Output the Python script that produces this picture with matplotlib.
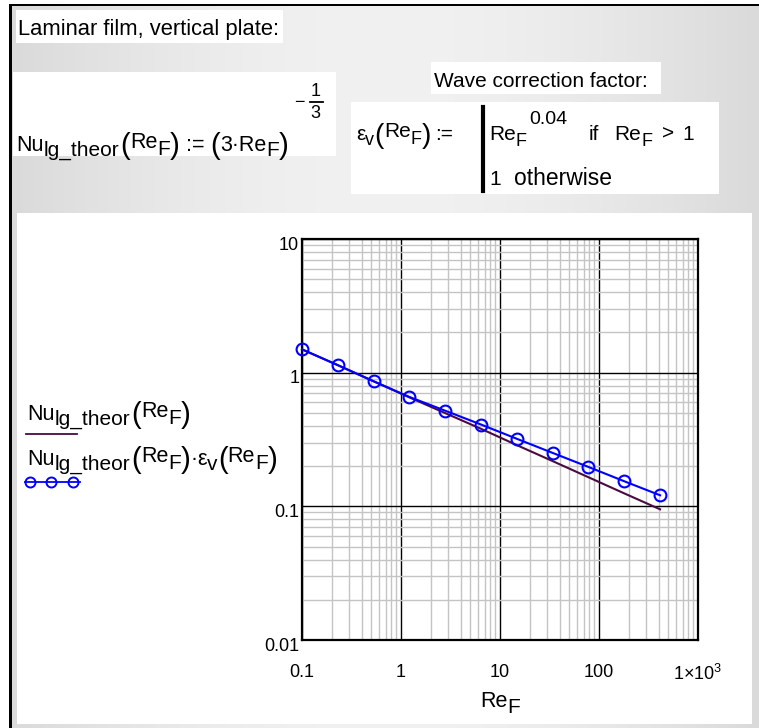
import matplotlib
matplotlib.use('Agg')
import matplotlib.pyplot as plt
import numpy as np
from matplotlib.patches import Rectangle
from matplotlib.lines import Line2D
from matplotlib.transforms import ScaledTranslation

plt.rcParams['font.family'] = ['Liberation Sans', 'DejaVu Sans']
plt.rcParams['mathtext.fontset'] = 'custom'
plt.rcParams['mathtext.rm'] = 'Liberation Sans'
plt.rcParams['mathtext.it'] = 'Liberation Sans:italic'

# ---------------- data ----------------
re_f = [0.1, 0.23, 0.529, 1.217, 2.80, 6.44, 14.8, 34.0, 78.3, 180.0, 414.0]
nu_theor = [1.494, 1.138, 0.862, 0.653, 0.498, 0.380, 0.287, 0.218, 0.165, 0.125, 0.095]
nu_wave = [1.494, 1.138, 0.862, 0.658, 0.519, 0.409, 0.320, 0.251, 0.197, 0.154, 0.121]

x_ticks = [0.1, 1, 10, 100, 1000]
x_tick_labels = ['0.1', '1', '10', '100', r'$\mathregular{1{\times}10^{3}}$']
y_ticks = [0.01, 0.1, 1, 10]
y_tick_labels = ['0.01', '0.1', '1', '10']

purple = '#4a0a42'
blue = '#0000ff'

W, H = 759, 728
fig = plt.figure(figsize=(W / 100, H / 100), dpi=100)
bg = fig.add_axes([0, 0, 1, 1])
bg.axis('off')

# gray gradient background
xs = np.linspace(0, 1, 256)
g = 0.855 + 0.09 * np.sin(np.pi * xs)
grad = np.dstack([np.tile(g, (2, 1))] * 3)
bg.imshow(grad, extent=(11, W, H, 6), aspect='auto', interpolation='bilinear', zorder=0)
bg.set_xlim(0, W)
bg.set_ylim(H, 0)

# black frame (top + left)
bg.add_patch(Rectangle((9, 3.5), W - 9, 2.5, fc='black', ec='none', zorder=1))
bg.add_patch(Rectangle((9, 3.5), 2.5, H - 3.5, fc='black', ec='none', zorder=1))

def box(x0, y0, x1, y1):
    bg.add_patch(Rectangle((x0, y0), x1 - x0, y1 - y0, fc='white', ec='none', zorder=1))

box(16, 10, 283, 43)      # Laminar film
box(13, 72, 336, 156)     # Nu formula
box(431, 62, 661, 94)     # Wave correction
box(351, 102, 719, 194)   # epsilon
box(17, 213, 752, 724)    # plot region

fig.canvas.draw()
R = fig.canvas.get_renderer()

def run(x, y, pieces):
    for p in pieces:
        if isinstance(p, (int, float)):
            x += p
            continue
        s, size, dy = p
        t = bg.text(x, y + dy, s, fontsize=size, ha='left', va='baseline', zorder=3)
        x += t.get_window_extent(R).width
    return x

def width_of(pieces):
    tot = 0
    for p in pieces:
        if isinstance(p, (int, float)):
            tot += p
            continue
        s, size, dy = p
        t = bg.text(0, 0, s, fontsize=size)
        tot += t.get_window_extent(R).width
        t.remove()
    return tot

FS = 15.5
SS = 15
PS = 21

# Laminar
bg.text(18, 35, 'Laminar film, vertical plate:', fontsize=15.8, ha='left', va='baseline', zorder=3)
# Wave
bg.text(434, 87, 'Wave correction factor:', fontsize=15, ha='left', va='baseline', zorder=3)

# Nu formula
NU_ARG = [('Nu', FS, 0), ('lg_theor', SS, 5), 1, ('(', PS, 3), ('Re', FS, -3), ('F', SS, 4), (')', PS, 3)]
xe = run(16, 151, NU_ARG + [6, (':=', FS, 0), 6, ('(', PS, 3), ('3·Re', FS, 0), ('F', SS, 5), (')', PS, 3)])
# exponent -1/3
bg.text(xe + 5, 107, '\u2212', fontsize=13, ha='left', va='baseline', zorder=3)
bg.text(xe + 27, 96, '1', fontsize=13, ha='center', va='baseline', zorder=3)
bg.add_line(Line2D([xe + 21, xe + 34], [101.5, 101.5], color='black', lw=1.3, zorder=3))
bg.text(xe + 27, 118, '3', fontsize=13, ha='center', va='baseline', zorder=3)

# epsilon formula
EF, ES, EP = 15, 13, 20
run(356, 140, [('\u03b5', EF, 0), ('v', ES, 5), ('(', EP, 3), ('Re', EF, -3), ('F', ES, 4), (')', EP, 3),
               4, (':=', EF, 0)])
bg.add_line(Line2D([483, 483], [107, 191], color='black', lw=3, zorder=3))
xr = run(489, 140, [('Re', EF, 0), ('F', ES, 6)])
bg.text(xr + 2, 124, '0.04', fontsize=14, ha='left', va='baseline', zorder=3)
run(589, 140, [('if', EF, 0), 15, ('Re', EF, 0), ('F', ES, 6), 10, ('>', EF, 0), 8, ('1', EF, 0)])
run(489, 185, [('1', EF, 0), 13, ('otherwise', 16.5, 0)])

# legend
run(27, 420, NU_ARG)
bg.add_line(Line2D([26, 77], [434, 434], color=purple, lw=1.3, zorder=3))
run(27, 465, NU_ARG + [('·', FS, 0), ('\u03b5', FS, 0), ('v', SS, 5), ('(', PS, 3), ('Re', FS, -3),
                       ('F', SS, 4), (')', PS, 3)])
bg.add_line(Line2D([25, 80], [482, 482], color=blue, lw=1.3, zorder=3))
bg.add_line(Line2D([30, 51, 73], [482, 482, 482], color=blue, lw=0, marker='o', ms=7.2,
                   mfc='none', mec=blue, mew=1.4, zorder=3))

# x label Re_F
RE_LBL = [('Re', FS, 0), ('F', SS, 6)]
wl = width_of(RE_LBL)
run(500 - wl / 2, 707, RE_LBL)

# ---------------- plot ----------------
ax = fig.add_axes([302 / W, 1 - 640 / H, 396 / W, 401 / H], zorder=5)
ax.set_xscale('log')
ax.set_yscale('log')
ax.set_xlim(0.1, 1000)
ax.set_ylim(0.01, 10)
ax.set_facecolor('white')
ax.grid(True, which='minor', color='#c4c4c4', lw=1)
ax.grid(True, which='major', color='black', lw=1)
ax.set_axisbelow(True)
for s in ax.spines.values():
    s.set_linewidth(1.6)
    s.set_color('black')

ax.plot(re_f, nu_theor, color=purple, lw=1.5, zorder=3)
ax.plot(re_f, nu_wave, color=blue, lw=1.5, marker='o', ms=8.5, mfc='none', mec=blue, mew=1.5,
        zorder=4, clip_on=False)

ax.set_xticks(x_ticks)
ax.set_xticklabels(x_tick_labels)
ax.set_yticks(y_ticks)
ax.set_yticklabels(y_tick_labels)
ax.tick_params(which='both', length=0)
ax.tick_params(axis='x', pad=17, labelsize=13)
ax.tick_params(axis='y', pad=2, labelsize=13)
for lbl in ax.get_yticklabels():
    lbl.set_transform(lbl.get_transform() + ScaledTranslation(0, -3 / 72, fig.dpi_scale_trans))

fig.savefig('out.png', dpi=100)
